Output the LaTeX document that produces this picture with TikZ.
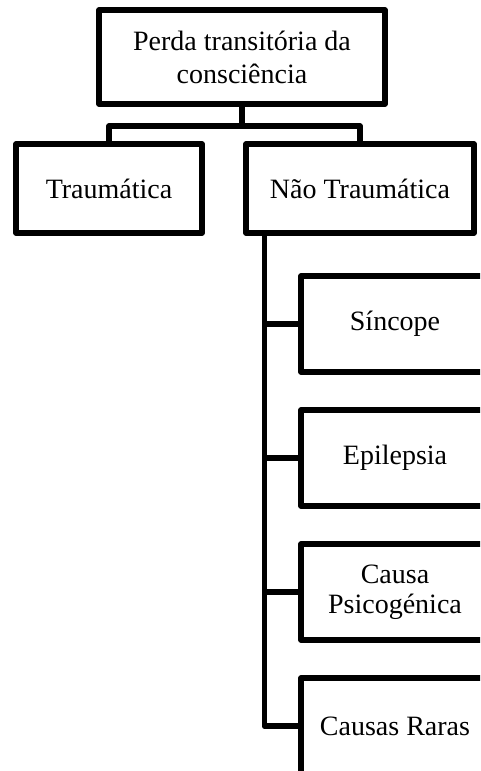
\documentclass[tikz,border=0pt]{standalone}
\usepackage{fontspec}
\setmainfont{Liberation Serif}
\begin{document}
\begin{tikzpicture}[x=1pt,y=-1pt,
  box/.style={draw=black, line width=5.5pt, line join=round, fill=white, align=center, inner sep=0pt, font=\fontsize{28}{33}\selectfont},
  link/.style={draw=black, line width=5.5pt, line join=round, line cap=rect}]
\useasboundingbox (0,0) rectangle (480,771);
\clip (0,0) rectangle (480,771);
\fill[white] (0,0) rectangle (480,771);
\node[box, minimum width=286pt, minimum height=94pt] (top) at (242,57) {Perda transitória da\\consciência};
\node[box, minimum width=186pt, minimum height=89pt] (trauma) at (109,188.5) {Traumática};
\node[box, minimum width=228pt, minimum height=89pt] (nontrauma) at (360,188.5) {Não Traumática};
\node[box, minimum width=188pt, minimum height=96pt] (sincope) at (395,324) {Síncope};
\node[box, minimum width=188pt, minimum height=96pt] (epilepsia) at (395,458) {Epilepsia};
\node[box, minimum width=188pt, minimum height=96pt, font=\fontsize{28}{30}\selectfont] (psico) at (395,592) {Causa\\Psicogénica};
\node[box, minimum width=188pt, minimum height=96pt] (raras) at (395,726) {Causas Raras};
\coordinate (bus) at (242,126);
\coordinate (trunk) at ([xshift=21pt]nontrauma.south west);
\draw[link, line cap=butt] (top.south) -- (bus);
\draw[link, line cap=butt] (trauma.north) |- (bus) -| (nontrauma.north);
\draw[link, line cap=butt] (trunk) |- (raras.west);
\draw[link, line cap=butt] (sincope.west) -- (sincope.west -| trunk);
\draw[link, line cap=butt] (epilepsia.west) -- (epilepsia.west -| trunk);
\draw[link, line cap=butt] (psico.west) -- (psico.west -| trunk);
\end{tikzpicture}
\end{document}
